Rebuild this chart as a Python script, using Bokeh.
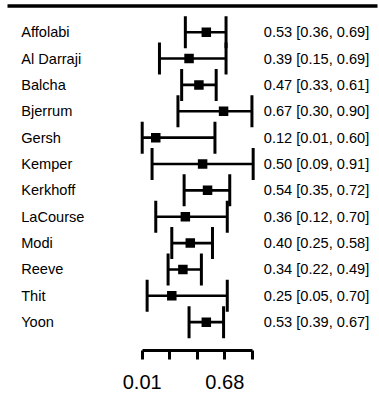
from bokeh.plotting import figure
from bokeh.models import Range1d, FixedTicker, ColumnDataSource
from bokeh.core.properties import value
from bokeh.embed import file_html
from bokeh.resources import INLINE

studies = ["Affolabi", "Al Darraji", "Balcha", "Bjerrum", "Gersh", "Kemper",
           "Kerkhoff", "LaCourse", "Modi", "Reeve", "Thit", "Yoon"]
est = [0.53, 0.39, 0.47, 0.67, 0.12, 0.50, 0.54, 0.36, 0.40, 0.34, 0.25, 0.53]
lower = [0.36, 0.15, 0.33, 0.30, 0.01, 0.09, 0.35, 0.12, 0.25, 0.22, 0.05, 0.39]
upper = [0.69, 0.69, 0.61, 0.90, 0.60, 0.91, 0.72, 0.70, 0.58, 0.49, 0.70, 0.67]
tick_values = [0.01, 0.2333, 0.4567, 0.68, 0.9033]
tick_labels = ["0.01", "", "", "0.68", ""]

W, H = 379, 399
px_per_x = 123.3
px_per_row = 26.36
x0 = 0.01 - 141.7 / px_per_x
x1 = x0 + W / px_per_x
frame_bottom = 350
y_top = 31.7 / px_per_row
y_bot = y_top - frame_bottom / px_per_row

rows = [-i for i in range(len(studies))]
cap_half = 16 / px_per_row
src = ColumnDataSource(dict(
    y=rows, est=est, lo=lower, hi=upper, name=studies,
    cap_top=[r + cap_half for r in rows], cap_bot=[r - cap_half for r in rows],
    lab=[f"{e:.2f} [{l:.2f}, {h:.2f}]" for e, l, h in zip(est, lower, upper)],
))

p = figure(width=W, height=H, output_backend="svg", toolbar_location=None,
           x_range=Range1d(x0, x1), y_range=Range1d(y_bot, y_top),
           min_border_left=0, min_border_right=0, min_border_top=0,
           min_border_bottom=H - frame_bottom)
p.outline_line_color = None
p.grid.visible = False
p.yaxis.visible = False
p.background_fill_color = "white"
p.border_fill_color = "white"

ax = p.xaxis[0]
ax.ticker = FixedTicker(ticks=tick_values)
ax.major_label_overrides = {t: l for t, l in zip(tick_values, tick_labels)}
ax.bounds = (tick_values[0], tick_values[-1])
ax.axis_line_width = 3
ax.axis_line_color = "black"
ax.major_tick_line_width = 3
ax.major_tick_line_color = "black"
ax.major_tick_out = 9
ax.major_tick_in = 0
ax.minor_tick_line_color = None
ax.major_label_text_font = "Liberation Sans"
ax.major_label_text_font_size = "20px"
ax.major_label_text_color = "black"
ax.major_label_standoff = 15

# top rule (from x=7px to x=377px, at y=5.5px)
rule_y = y_top - 5.5 / px_per_row
p.segment(x0=[x0 + 7 / px_per_x], y0=[rule_y], x1=[x0 + 377 / px_per_x], y1=[rule_y],
          line_color="black", line_width=3.5)

p.segment(x0="lo", y0="y", x1="hi", y1="y", source=src, line_color="black", line_width=2.6)
p.segment(x0="lo", y0="cap_bot", x1="lo", y1="cap_top", source=src, line_color="black", line_width=3)
p.segment(x0="hi", y0="cap_bot", x1="hi", y1="cap_top", source=src, line_color="black", line_width=3)
p.scatter(x="est", y="y", source=src, marker="square", size=9.5, fill_color="black", line_color="black", line_width=0)

p.text(x=x0, y="y", text="name", source=src, x_offset=20.7,
       text_font=value("Liberation Sans"), text_font_size="14.6px",
       text_baseline="middle", text_align="left", text_color="black")
p.text(x=x0, y="y", text="lab", source=src, x_offset=263.3,
       text_font=value("Liberation Sans"), text_font_size="14.6px",
       text_baseline="middle", text_align="left", text_color="black")

open("out.html", "w").write(file_html(p, INLINE))
